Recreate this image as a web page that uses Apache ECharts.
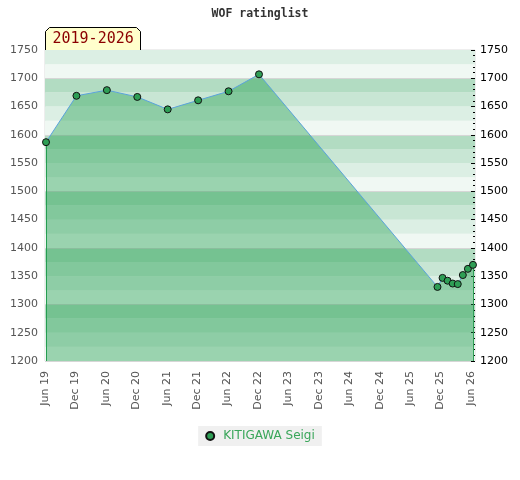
<!DOCTYPE html>
<html>
<head>
<meta charset="utf-8">
<script src="https://cdn.jsdelivr.net/npm/echarts@6/dist/echarts.min.js"></script>
<style>
  html, body { margin: 0; padding: 0; background: #fff; }
  #main { width: 520px; height: 480px; }
</style>
</head>
<body>
<div id="main"></div>
<script>
// months counted from Jun 2019
const months  = [0.2, 6.2, 12.2, 18.2, 24.2, 30.2, 36.2, 42.2, 77.4, 78.4, 79.4, 80.4, 81.4, 82.4, 83.4, 84.4];
const ratings = [1587, 1669, 1679, 1667, 1645, 1661, 1677, 1707, 1331, 1347, 1342, 1337, 1336, 1352, 1363, 1370];
const playerName = 'KITIGAWA Seigi';
const monthNames = ['Jun', 'Dec'];
const yMin = 1200, yMax = 1750;

let chart = echarts.init(document.getElementById('main'));

let points = months.map((m, i) => [m, ratings[i]]);
let first = points[0], last = points[points.length - 1];

let option = {
  animation: false,
  title: {
    text: 'WOF ratinglist',
    left: 'center',
    top: 3,
    textStyle: { fontFamily: 'DejaVu Sans Mono', fontWeight: 'bold', fontSize: 11.5, color: '#333' }
  },
  grid: { left: 45, right: 45, top: 50, bottom: 119, show: true, borderColor: '#ddd', borderWidth: 1 },
  legend: {
    data: [playerName],
    top: 426,
    left: 'center',
    backgroundColor: '#f0f0f0',
    padding: [4, 7],
    itemWidth: 8,
    itemHeight: 8,
    icon: 'circle',
    textStyle: { color: '#3aa65a', fontFamily: 'DejaVu Sans', fontSize: 12, padding: [0, 0, 0, 4] }
  },
  xAxis: {
    type: 'value',
    min: 0,
    max: 84.8,
    interval: 6,
    axisLine: { show: false },
    axisTick: { show: false },
    splitLine: { show: false },
    axisLabel: {
      rotate: 90,
      margin: 10,
      showMaxLabel: false,
      color: '#555',
      fontFamily: 'DejaVu Sans',
      fontSize: 11,
      formatter: v => {
        let idx = Math.round(v / 6);
        return monthNames[idx % 2] + ' ' + (19 + Math.floor((v + 5) / 12));
      }
    }
  },
  yAxis: [
    { // left labels
      type: 'value', position: 'left', min: yMin, max: yMax, interval: 50,
      axisLine: { show: false }, axisTick: { show: false }, splitLine: { show: false },
      axisLabel: { color: '#555', margin: 7, fontFamily: 'DejaVu Sans', fontSize: 11, formatter: v => String(v) }
    },
    { // right labels + ticks
      type: 'value', position: 'right', min: yMin, max: yMax, interval: 50,
      axisLine: { show: false },
      axisTick: { show: true, inside: true, length: 4, lineStyle: { color: '#000' } },
      minorTick: { show: true, splitNumber: 5, length: 2, lineStyle: { color: '#000' } },
      splitLine: { show: false },
      axisLabel: { color: '#000', margin: 5, fontFamily: 'DejaVu Sans', fontSize: 11, formatter: v => String(v) }
    },
    { // background bands
      type: 'value', position: 'left', min: yMin, max: yMax, interval: 25,
      axisLine: { show: false }, axisTick: { show: false }, axisLabel: { show: false },
      splitLine: { show: true, lineStyle: { color: ['#d6d6d6', 'rgba(0,0,0,0)', 'rgba(0,0,0,0)', 'rgba(0,0,0,0)'] } },
      splitArea: { show: true, areaStyle: { color: ['#f0f8f3', '#dcefe4', '#c8e6d4', '#b2dcc2'] } }
    }
  ],
  series: [{
    name: playerName,
    type: 'line',
    yAxisIndex: 0,
    data: points,
    symbol: 'circle',
    symbolSize: 7,
    itemStyle: { color: '#2e9e55', borderColor: '#111', borderWidth: 1 },
    lineStyle: { color: '#5ba3dc', width: 1 },
    areaStyle: { color: '#1a9a48', opacity: 0.4, origin: 'start' },
    z: 5,
    markLine: {
      silent: true,
      symbol: 'none',
      label: { show: false },
      lineStyle: { color: '#2e9e55', type: 'solid', width: 1 },
      data: [
        [{ coord: [first[0], yMin] }, { coord: first }],
        [{ coord: [last[0], yMin] }, { coord: last }]
      ]
    }
  }],
  graphic: [{
    type: 'group',
    left: 45,
    top: 27,
    children: [{
      type: 'polygon',
      shape: { points: [[0, 4], [4, 0], [91, 0], [95, 4], [95, 23], [0, 23]] },
      style: { fill: '#ffffcc', stroke: '#000', lineWidth: 1 }
    }, {
      type: 'text',
      left: 7,
      top: 4,
      style: { text: '2019-2026', fill: '#8b0000', font: '15px "DejaVu Sans Mono"' }
    }]
  }]
};

chart.setOption(option);
</script>
</body>
</html>
